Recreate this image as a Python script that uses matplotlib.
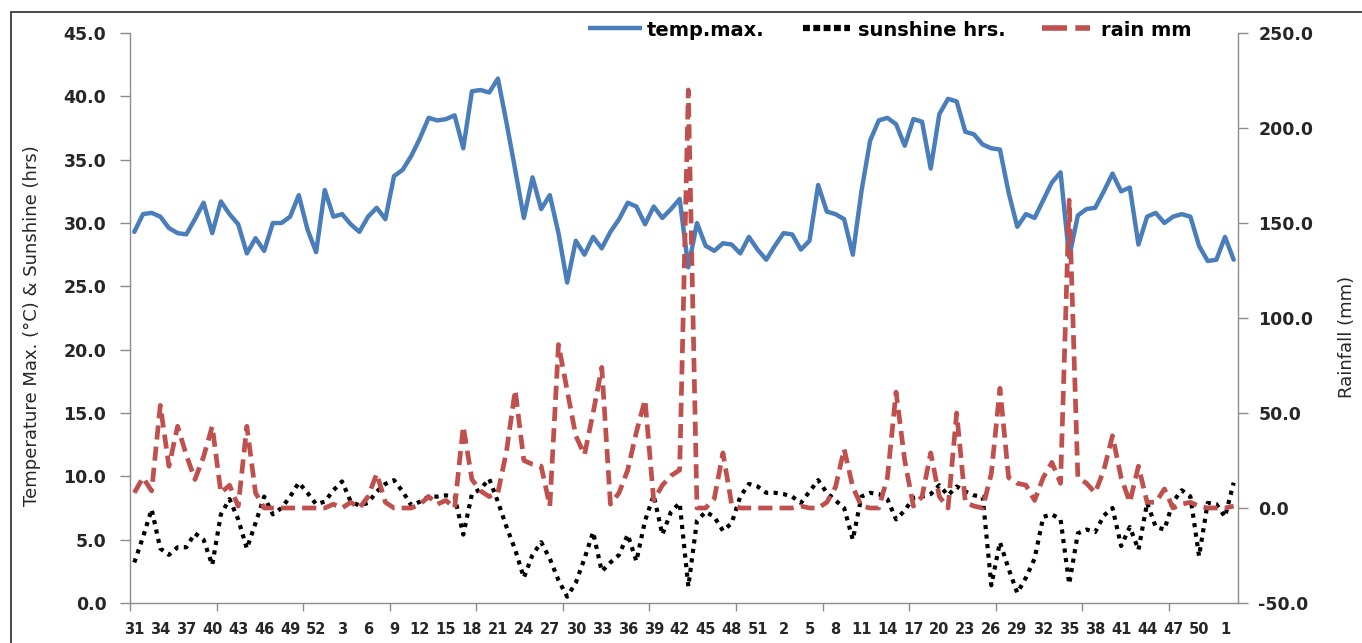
import matplotlib
matplotlib.use("Agg")
import matplotlib.pyplot as plt
from matplotlib.lines import Line2D
from matplotlib.patches import Rectangle
from matplotlib.ticker import FixedLocator, FuncFormatter

# ---------------- data ----------------
weeks = list(range(31, 53)) + list(range(1, 53)) + list(range(1, 53)) + [1, 2]

temp_max = [29.3, 30.7, 30.8, 30.5, 29.6, 29.2, 29.1, 30.3, 31.6, 29.2,
            31.7, 30.7, 29.9, 27.6, 28.8, 27.8, 30.0, 30.0, 30.5, 32.2,
            29.5, 27.7, 32.6, 30.5, 30.7, 29.9, 29.3, 30.5, 31.2, 30.3,
            33.7, 34.2, 35.3, 36.7, 38.3, 38.1, 38.2, 38.5, 35.9, 40.4,
            40.5, 40.3, 41.4, 37.9, 34.2, 30.4, 33.6, 31.1, 32.2, 29.2,
            25.3, 28.6, 27.5, 28.9, 28.0, 29.3, 30.3, 31.6, 31.3, 29.9,
            31.3, 30.4, 31.1, 31.9, 26.5, 30.0, 28.2, 27.8, 28.4, 28.3,
            27.6, 28.9, 27.9, 27.1, 28.2, 29.2, 29.1, 27.9, 28.6, 33.0,
            30.9, 30.7, 30.3, 27.5, 32.5, 36.5, 38.1, 38.3, 37.8, 36.1,
            38.2, 38.0, 34.3, 38.6, 39.8, 39.6, 37.2, 37.0, 36.2, 35.9,
            35.8, 32.4, 29.7, 30.7, 30.4, 31.8, 33.2, 34.0, 27.3, 30.6,
            31.1, 31.2, 32.5, 33.9, 32.5, 32.8, 28.3, 30.5, 30.8, 30.0,
            30.5, 30.7, 30.5, 28.2, 27.0, 27.1, 28.9, 27.1]

sunshine = [3.2, 5.2, 7.4, 4.3, 3.8, 4.4, 4.4, 5.5, 5.0, 3.0,
            7.0, 8.2, 6.6, 4.3, 6.3, 8.4, 7.0, 7.5, 8.4, 9.5,
            8.7, 7.8, 8.0, 8.9, 9.6, 8.0, 7.7, 7.9, 8.8, 9.4,
            9.7, 8.8, 7.7, 8.0, 8.4, 8.4, 8.5, 8.4, 5.4, 8.6,
            9.0, 9.8, 8.0, 6.0, 4.2, 2.0, 3.8, 4.8, 3.5, 1.8,
            0.5, 1.6, 3.5, 5.6, 2.5, 3.2, 3.8, 5.4, 3.3, 6.5,
            8.5, 5.4, 7.2, 7.9, 1.3, 6.5, 7.2, 6.8, 5.7, 6.3,
            8.4, 9.4, 9.2, 8.7, 8.7, 8.6, 8.4, 7.9, 8.8, 9.7,
            8.7, 8.1, 7.5, 5.0, 8.4, 8.7, 8.6, 8.2, 6.6, 7.3,
            8.3, 8.4, 8.6, 9.3, 8.5, 9.2, 8.8, 8.5, 8.4, 1.4,
            4.8, 2.7, 0.8, 2.0, 3.5, 6.8, 7.0, 6.6, 1.5, 5.5,
            5.8, 5.6, 6.9, 7.5, 4.5, 6.0, 4.2, 7.9, 6.0, 5.8,
            8.0, 8.9, 8.4, 3.7, 7.9, 7.8, 6.8, 9.5]

rain_mm = [8, 16, 9, 54, 22, 43, 28, 15, 27, 43,
           8, 12, 1, 43, 8, 0, 0, 0, 0, 0,
           0, 0, 0, 2, 0, 3, 0, 6, 18, 3,
           0, 0, 0, 2, 6, 2, 4, 0, 43, 15,
           9, 6, 8, 30, 62, 25, 23, 22, 1, 86,
           62, 38, 28, 50, 74, 2, 8, 20, 40, 57,
           4, 12, 17, 20, 220, 0, 0, 5, 29, 2,
           0, 0, 0, 0, 0, 0, 0, 1, 0, 0,
           3, 11, 31, 11, 1, 0, 0, 16, 61, 25,
           1, 6, 29, 6, 0, 50, 3, 1, 0, 18,
           63, 16, 13, 12, 4, 16, 24, 13, 162, 16,
           13, 8, 20, 38, 16, 3, 22, 3, 3, 10,
           0, 2, 3, 1, 0, 0, 0, 1]

left_ticks = [0, 5, 10, 15, 20, 25, 30, 35, 40, 45]
right_ticks = [-50, 0, 50, 100, 150, 200, 250]

# ---------------- style ----------------
W, H = 1362, 643
BLUE = "#4A7EBB"
RED = "#C0504D"
AXIS = "#8C8C8C"
TXT = "#262626"

def fx(px):
    return px / W

def fy(py):
    return 1 - py / H

fig = plt.figure(figsize=(W / 100, H / 100), dpi=100)
ax = fig.add_axes([fx(130), fy(603), fx(1238) - fx(130), fy(33) - fy(603)])
ax2 = ax.twinx()

x = list(range(len(weeks)))

ax.plot(x, temp_max, color=BLUE, lw=3.2, solid_joinstyle="round",
        solid_capstyle="round", zorder=3)
ax.plot(x, sunshine, color="black", lw=3.0, linestyle=(0, (1, 1.3)),
        dash_capstyle="butt", zorder=4)
ax2.plot(x, rain_mm, color=RED, lw=3.4, linestyle=(0, (3.0, 1.5)),
         dash_capstyle="butt", zorder=3)

ax.set_xlim(-0.5, len(weeks) - 0.5)
ax.set_ylim(0, 45)
ax2.set_ylim(-50, 250)

for a in (ax, ax2):
    for s in a.spines.values():
        s.set_color(AXIS)
        s.set_linewidth(1.0)
    a.spines["top"].set_visible(False)
ax.spines["right"].set_visible(False)
ax2.spines["left"].set_visible(False)
ax2.spines["bottom"].set_visible(False)

fmt = FuncFormatter(lambda v, p: f"{v:.1f}")
ax.yaxis.set_major_locator(FixedLocator(left_ticks))
ax.yaxis.set_major_formatter(fmt)
ax2.yaxis.set_major_locator(FixedLocator(right_ticks))
ax2.yaxis.set_major_formatter(fmt)

ax.tick_params(axis="y", direction="out", length=7, width=1, color=AXIS,
               pad=10, labelsize=12.5, labelcolor=TXT)
ax2.tick_params(axis="y", direction="out", length=7, width=1, color=AXIS,
                pad=7.5, labelsize=12.5, labelcolor=TXT)
for lab in ax.get_yticklabels() + ax2.get_yticklabels():
    lab.set_fontweight("bold")

# x axis: tick marks every 10 categories, labels every 3 categories
ax.xaxis.set_major_locator(FixedLocator([i - 0.5 for i in range(0, len(weeks), 10)]))
ax.xaxis.set_major_formatter(FuncFormatter(lambda v, p: ""))
lab_pos = list(range(0, len(weeks), 3))
ax.xaxis.set_minor_locator(FixedLocator(lab_pos))
ax.xaxis.set_minor_formatter(FuncFormatter(lambda v, p: str(weeks[int(round(v))])))
ax.tick_params(axis="x", which="major", direction="out", length=6, width=1, color=AXIS)
ax.tick_params(axis="x", which="minor", length=0, pad=14, labelsize=10.5, labelcolor=TXT)
for lab in ax.get_xticklabels(minor=True):
    lab.set_fontweight("bold")

# axis titles
fig.text(fx(32), fy(326), "Temperature Max. (°C) & Sunshine (hrs)", rotation=90,
         ha="center", va="center", fontsize=13, color=TXT)
fig.text(fx(1347), fy(337), "Rainfall (mm)", rotation=90,
         ha="center", va="center", fontsize=13, color=TXT)

# legend (drawn manually to match placement)
ly = fy(28)
fig.add_artist(Line2D([fx(588), fx(642)], [ly, ly], transform=fig.transFigure,
                      color=BLUE, lw=3.2, solid_capstyle="butt"))
fig.text(fx(647), ly, "temp.max.", ha="left", va="center_baseline", fontsize=14,
         fontweight="bold", color="black")
fig.add_artist(Line2D([fx(803), fx(850)], [ly, ly], transform=fig.transFigure,
                      color="black", lw=4.5, linestyle=(0, (1.1, 0.55)),
                      dash_capstyle="butt"))
fig.text(fx(858), ly, "sunshine hrs.", ha="left", va="center_baseline", fontsize=14,
         fontweight="bold", color="black")
fig.add_artist(Line2D([fx(1042), fx(1090)], [ly, ly], transform=fig.transFigure,
                      color=RED, lw=4.0, linestyle=(0, (4.5, 1.5)),
                      dash_capstyle="butt"))
fig.text(fx(1101), ly, "rain mm", ha="left", va="center_baseline", fontsize=14,
         fontweight="bold", color="black")

# outer chart border (top and left edges visible in the crop)
fig.add_artist(Rectangle((fx(11), -0.1), 1.2, fy(12) + 0.1, transform=fig.transFigure,
                         fill=False, edgecolor="#3A3A3A", lw=1.3))

fig.savefig("out.png", dpi=100)
